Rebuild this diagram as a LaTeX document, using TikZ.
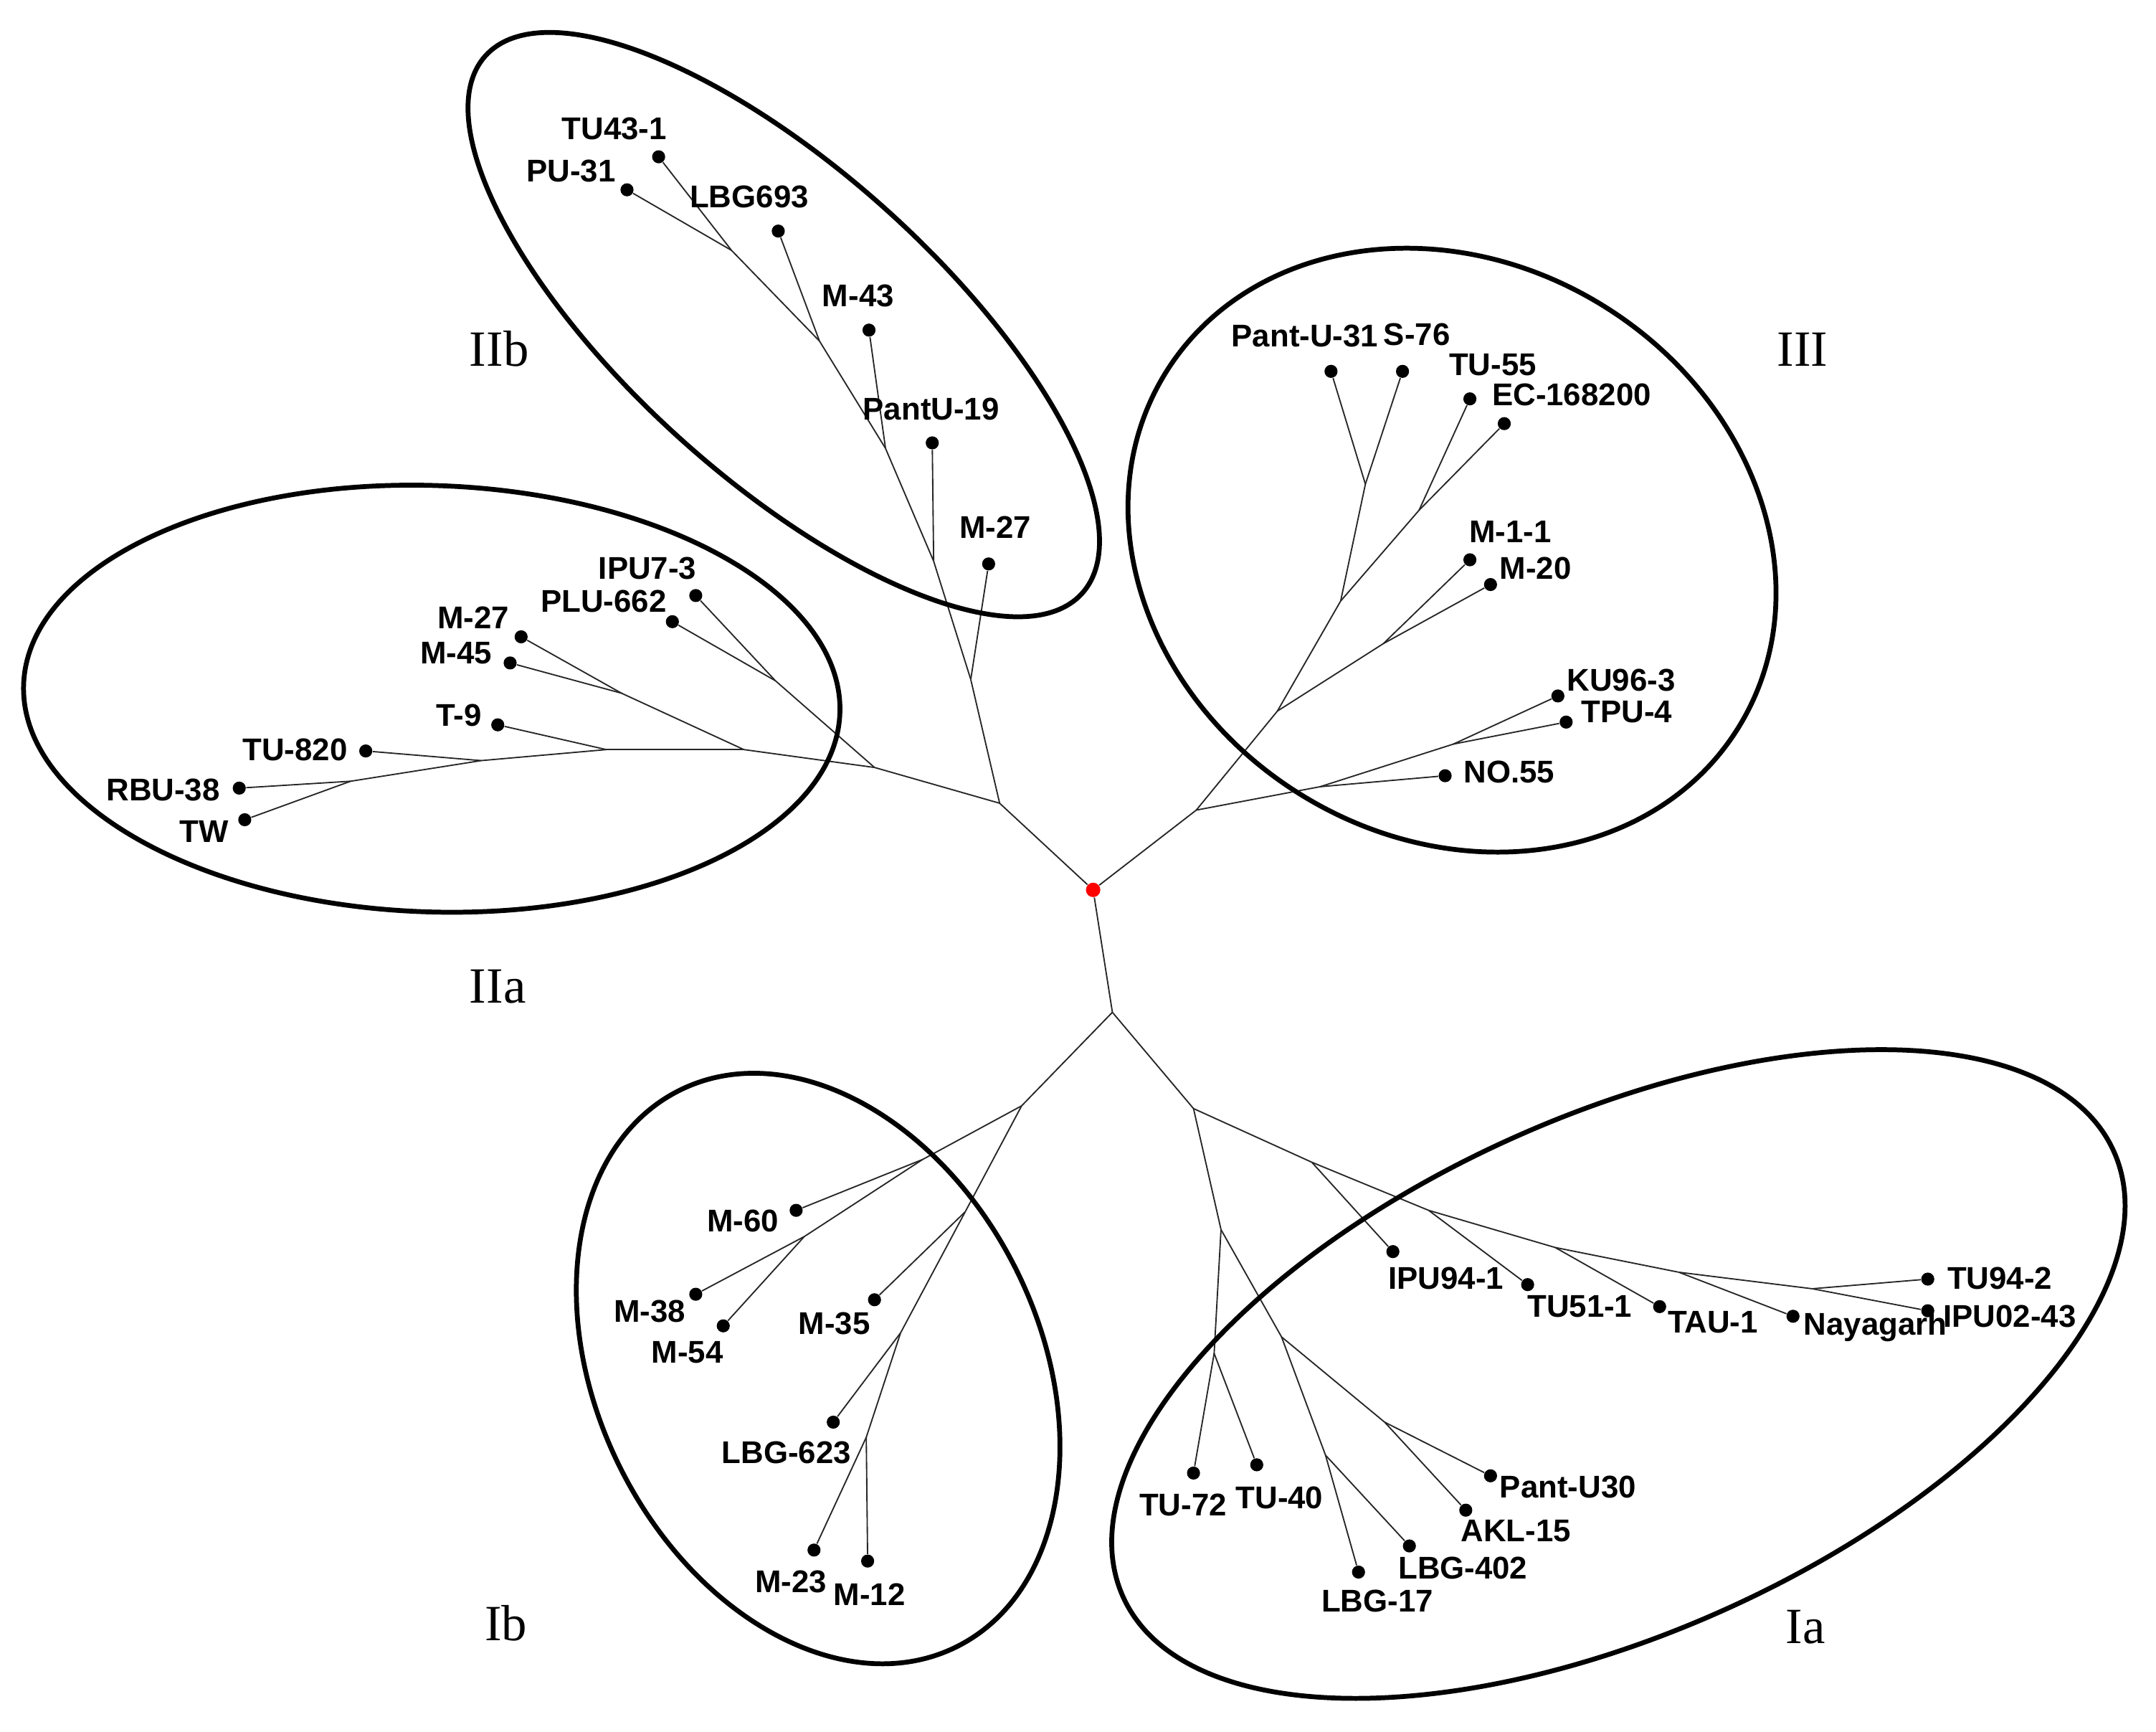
\documentclass[tikz,border=0pt]{standalone}
\usepackage{fontspec}
\setmainfont{Liberation Serif}
\newfontfamily\leaffont{Liberation Sans}
\begin{document}
\begin{tikzpicture}[x=0.02cm,y=-0.02cm,
  br/.style={line width=0.55pt, draw=black!85},
  leaf/.style={circle, fill=black, inner sep=0pt, minimum size=0.19cm},
  rootdot/.style={circle, fill=red, inner sep=0pt, minimum size=0.21cm},
  lab/.style={anchor=base, inner sep=0pt, font=\leaffont\bfseries\fontsize{13}{15}\selectfont},
  grp/.style={anchor=base, inner sep=0pt, font=\fontsize{21}{25}\selectfont},
  ring/.style={line width=2pt}]
\useasboundingbox (0,0) rectangle (1568,1259);

% ---------- root and internal nodes ----------
\node[rootdot] (r) at (795,647) {};
\coordinate (j1) at (727,584);
\coordinate (b1) at (706,494);
\coordinate (b2) at (679,408);
\coordinate (b3) at (644,326);
\coordinate (b4) at (596,248);
\coordinate (b5) at (532,182);
\coordinate (a1) at (636,558);
\coordinate (a2) at (564,495);
\coordinate (a3) at (541,545);
\coordinate (a4) at (452,504);
\coordinate (a5) at (441,545);
\coordinate (a6) at (350,553);
\coordinate (a7) at (255,568);
\coordinate (c1) at (870,589);
\coordinate (c2) at (929,517);
\coordinate (c3) at (960,572);
\coordinate (c4) at (1057,541);
\coordinate (c5) at (975,437);
\coordinate (c6) at (1006,468);
\coordinate (c7) at (993,352);
\coordinate (c8) at (1032,371);
\coordinate (d0) at (809,736);
\coordinate (e1) at (868,806);
\coordinate (f1) at (743,804);
\coordinate (f2) at (671,843);
\coordinate (f3) at (702,881);
\coordinate (f4) at (585,899);
\coordinate (f5) at (655,969);
\coordinate (f6) at (630,1045);
\coordinate (g1) at (954,845);
\coordinate (g2) at (1039,880);
\coordinate (g3) at (1131,907);
\coordinate (g4) at (1221,925);
\coordinate (g5) at (1318,937);
\coordinate (h1) at (888,894);
\coordinate (h2) at (883,984);
\coordinate (h3) at (932,972);
\coordinate (h4) at (964,1058);
\coordinate (h5) at (1007,1034);

% ---------- leaves ----------
% IIb
\node[leaf] (ptuxliii) at (479,114) {};
\node[leaf] (ppuxxxi) at (456,138) {};
\node[leaf] (plbgdcxciii) at (566,168) {};
\node[leaf] (pmxliii) at (632,240) {};
\node[leaf] (ppantuxix) at (678,322) {};
\node[leaf] (pmxxviib) at (719,410) {};
% IIa
\node[leaf] (pipuvii) at (506,433) {};
\node[leaf] (pplu) at (489,452) {};
\node[leaf] (pmxxviia) at (379,463) {};
\node[leaf] (pmxlv) at (371,482) {};
\node[leaf] (ptix) at (362,527) {};
\node[leaf] (ptudcccxx) at (266,546) {};
\node[leaf] (prbu) at (174,573) {};
\node[leaf] (ptw) at (178,596) {};
% III
\node[leaf] (ppantuxxxi) at (968,270) {};
\node[leaf] (pslxxvi) at (1020,270) {};
\node[leaf] (ptuLV) at (1069,290) {};
\node[leaf] (pec) at (1094,308) {};
\node[leaf] (pmii) at (1069,407) {};
\node[leaf] (pmxx) at (1084,425) {};
\node[leaf] (pku) at (1133,506) {};
\node[leaf] (ptpu) at (1139,525) {};
\node[leaf] (pno) at (1051,564) {};
% Ib
\node[leaf] (pmlx) at (579,880) {};
\node[leaf] (pmxxxviii) at (506,941) {};
\node[leaf] (pmliv) at (526,964) {};
\node[leaf] (pmxxxv) at (636,945) {};
\node[leaf] (plbgdcxxiii) at (606,1034) {};
\node[leaf] (pmxxiii) at (592,1127) {};
\node[leaf] (pmxii) at (631,1135) {};
% Ia
\node[leaf] (pipuxciv) at (1013,910) {};
\node[leaf] (ptuli) at (1111,934) {};
\node[leaf] (ptau) at (1207,950) {};
\node[leaf] (pnaya) at (1304,957) {};
\node[leaf] (ptuxcii) at (1402,930) {};
\node[leaf] (pipuii) at (1402,953) {};
\node[leaf] (ptulxxii) at (868,1071) {};
\node[leaf] (ptuxl) at (914,1065) {};
\node[leaf] (ppantuxxx) at (1084,1073) {};
\node[leaf] (pakl) at (1066,1098) {};
\node[leaf] (plbgcdii) at (1025,1124) {};
\node[leaf] (plbgxvii) at (988,1143) {};

% ---------- branches ----------
\draw[br] (r) -- (j1);
\draw[br] (j1) -- (b1);
\draw[br] (b1) -- (pmxxviib);
\draw[br] (b1) -- (b2);
\draw[br] (b2) -- (ppantuxix);
\draw[br] (b2) -- (b3);
\draw[br] (b3) -- (pmxliii);
\draw[br] (b3) -- (b4);
\draw[br] (b4) -- (plbgdcxciii);
\draw[br] (b4) -- (b5);
\draw[br] (b5) -- (ptuxliii);
\draw[br] (b5) -- (ppuxxxi);
\draw[br] (j1) -- (a1);
\draw[br] (a1) -- (a2);
\draw[br] (a2) -- (pipuvii);
\draw[br] (a2) -- (pplu);
\draw[br] (a1) -- (a3);
\draw[br] (a3) -- (a4);
\draw[br] (a4) -- (pmxxviia);
\draw[br] (a4) -- (pmxlv);
\draw[br] (a3) -- (a5);
\draw[br] (a5) -- (ptix);
\draw[br] (a5) -- (a6);
\draw[br] (a6) -- (ptudcccxx);
\draw[br] (a6) -- (a7);
\draw[br] (a7) -- (prbu);
\draw[br] (a7) -- (ptw);
\draw[br] (r) -- (c1);
\draw[br] (c1) -- (c2);
\draw[br] (c1) -- (c3);
\draw[br] (c3) -- (pno);
\draw[br] (c3) -- (c4);
\draw[br] (c4) -- (pku);
\draw[br] (c4) -- (ptpu);
\draw[br] (c2) -- (c5);
\draw[br] (c2) -- (c6);
\draw[br] (c6) -- (pmii);
\draw[br] (c6) -- (pmxx);
\draw[br] (c5) -- (c7);
\draw[br] (c5) -- (c8);
\draw[br] (c7) -- (ppantuxxxi);
\draw[br] (c7) -- (pslxxvi);
\draw[br] (c8) -- (ptuLV);
\draw[br] (c8) -- (pec);
\draw[br] (r) -- (d0);
\draw[br] (d0) -- (e1);
\draw[br] (d0) -- (f1);
\draw[br] (f1) -- (f2);
\draw[br] (f1) -- (f3);
\draw[br] (f2) -- (pmlx);
\draw[br] (f2) -- (f4);
\draw[br] (f4) -- (pmxxxviii);
\draw[br] (f4) -- (pmliv);
\draw[br] (f3) -- (pmxxxv);
\draw[br] (f3) -- (f5);
\draw[br] (f5) -- (plbgdcxxiii);
\draw[br] (f5) -- (f6);
\draw[br] (f6) -- (pmxxiii);
\draw[br] (f6) -- (pmxii);
\draw[br] (e1) -- (g1);
\draw[br] (e1) -- (h1);
\draw[br] (g1) -- (pipuxciv);
\draw[br] (g1) -- (g2);
\draw[br] (g2) -- (ptuli);
\draw[br] (g2) -- (g3);
\draw[br] (g3) -- (ptau);
\draw[br] (g3) -- (g4);
\draw[br] (g4) -- (pnaya);
\draw[br] (g4) -- (g5);
\draw[br] (g5) -- (ptuxcii);
\draw[br] (g5) -- (pipuii);
\draw[br] (h1) -- (h2);
\draw[br] (h1) -- (h3);
\draw[br] (h2) -- (ptulxxii);
\draw[br] (h2) -- (ptuxl);
\draw[br] (h3) -- (h4);
\draw[br] (h3) -- (h5);
\draw[br] (h4) -- (plbgxvii);
\draw[br] (h4) -- (plbgcdii);
\draw[br] (h5) -- (ppantuxxx);
\draw[br] (h5) -- (pakl);

% ---------- cluster ellipses ----------
\draw[ring, rotate around={-42:(570,236)}] (570,236) ellipse (292 and 112);
\draw[ring, rotate around={-2:(314,508)}] (314,508) ellipse (297 and 155);
\draw[ring, rotate around={-31.7:(1056,400)}] (1056,400) ellipse (245 and 209);
\draw[ring, rotate around={-63.5:(595,995)}] (595,995) ellipse (226 and 161);
\draw[ring, rotate around={24.2:(1177,999)}] (1177,999) ellipse (395 and 188);

% ---------- leaf labels ----------
\node[lab] (tTUxliii) at (446.7,101.5) {TU43-1};
\node[lab] (tPUxxxi) at (415.3,132.4) {PU-31};
\node[lab] (tLBGdcxciii) at (544.9,150.9) {LBG693};
\node[lab] (tMxliii) at (624.1,222.8) {M-43};
\node[lab] (tPantUxix) at (677.2,305.1) {PantU-19};
\node[lab] (tMxxviib) at (723.8,391.3) {M-27};

\node[lab] (tIPUvii) at (470.9,421.1) {IPU7-3};
\node[lab] (tPLU) at (439,444.9) {PLU-662};
\node[lab] (tMxxviia) at (344.2,456.8) {M-27};
\node[lab] (tMxlv) at (331.8,482.7) {M-45};
\node[lab] (tTix) at (333.6,528.1) {T-9};
\node[lab] (tTUdcccxx) at (214.5,553) {TU-820};
\node[lab] (tRBU) at (118.7,582.2) {RBU-38};
\node[lab] (tTW) at (148.6,612.5) {TW};

\node[lab] (tPantUxxxi) at (949,252) {Pant-U-31};
\node[lab] (tSlxxvi) at (1030.5,251.3) {S-76};
\node[lab] (tTULV) at (1085.6,273.1) {TU-55};
\node[lab] (tEC) at (1143,294.9) {EC-168200};
\node[lab] (tMii) at (1098.4,394.5) {M-1-1};
\node[lab] (tMxx) at (1116.7,421.2) {M-20};
\node[lab] (tKU) at (1179,502.2) {KU96-3};
\node[lab] (tTPU) at (1183,525.4) {TPU-4};
\node[lab] (tNO) at (1097.6,569) {NO.55};

\node[lab] (tMlx) at (540.2,895.5) {M-60};
\node[lab] (tMxxxviii) at (472.6,961.3) {M-38};
\node[lab] (tMliv) at (499.9,991.1) {M-54};
\node[lab] (tMxxxv) at (606.7,970.3) {M-35};
\node[lab] (tLBGdcxxiii) at (572,1063.9) {LBG-623};
\node[lab] (tMxxiii) at (575.3,1157.8) {M-23};
\node[lab] (tMxii) at (632.4,1167.4) {M-12};

\node[lab] (tIPUxciv) at (1051.6,937.2) {IPU94-1};
\node[lab] (tTUli) at (1148.9,957.5) {TU51-1};
\node[lab] (tTAU) at (1245.7,968.9) {TAU-1};
\node[lab] (tNaya) at (1363.9,970.4) {Nayagarh};
\node[lab] (tTUxcii) at (1454.4,937.2) {TU94-2};
\node[lab] (tIPUii) at (1461.6,965) {IPU02-43};
\node[lab] (tTUlxxii) at (860.4,1101.9) {TU-72};
\node[lab] (tTUxl) at (930.5,1096.8) {TU-40};
\node[lab] (tPantUxxx) at (1140.3,1089.1) {Pant-U30};
\node[lab] (tAKL) at (1102.4,1120.7) {AKL-15};
\node[lab] (tLBGcdii) at (1063.9,1148) {LBG-402};
\node[lab] (tLBGxvii) at (1001.7,1171.9) {LBG-17};

% ---------- cluster labels ----------
\node[grp] (gIIb) at (363,266) {IIb};
\node[grp] (gIII) at (1311,266) {III};
\node[grp] (gIIa) at (362,729) {IIa};
\node[grp] (gIb) at (368,1193) {Ib};
\node[grp] (gIa) at (1313,1195) {Ia};
\end{tikzpicture}
\end{document}
